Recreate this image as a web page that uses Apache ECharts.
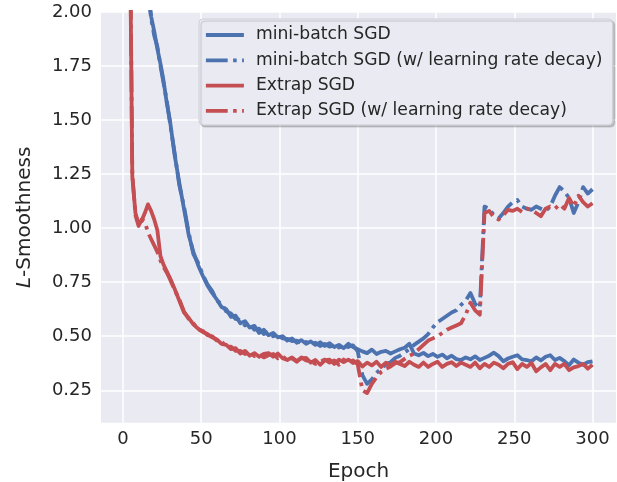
<!DOCTYPE html>
<html>
<head>
<meta charset="utf-8">
<script src="https://cdn.jsdelivr.net/npm/echarts@6/dist/echarts.min.js"></script>
<style>html,body{margin:0;padding:0;background:#fff;}#c{width:617px;height:482px;}</style>
</head>
<body>
<div id="c"></div>
<script>
const epochs = [1,3,4,5,6,8,10,12,14,16,18,20,22,24,26,28,30,
33,36,39,42,45,48,51,54,57,60,63,66,69,72,75,78,81,84,87,90,93,96,99,
102,105,108,111,114,117,120,123,126,129,132,135,138,141,144,147,150,
153,156,159,162,165,168,171,174,177,180,183,186,189,192,195,198,201,
204,207,210,213,216,219,222,225,228,231,234,237,240,243,246,249,252,
255,258,261,264,267,270,273,276,279,282,285,288,291,294,297,300];

const miniBatch = [6.0,5.2,4.8,4.4,4.0,3.4,2.9,2.55,2.3,2.1,1.98,1.91,1.83,1.76,1.68,1.58,1.50,
1.34,1.21,1.09,0.97,0.89,0.83,0.78,0.735,0.70,0.67,0.635,0.625,0.59,0.595,0.56,0.57,0.54,0.548,0.515,0.53,0.505,0.515,0.495,
0.50,0.48,0.49,0.47,0.482,0.465,0.476,0.46,0.472,0.455,0.468,0.45,0.46,0.445,0.465,0.45,0.44,
0.43,0.422,0.438,0.418,0.428,0.432,0.42,0.43,0.44,0.447,0.465,0.42,0.412,0.423,0.408,0.418,0.405,
0.415,0.398,0.41,0.394,0.39,0.402,0.393,0.407,0.39,0.40,0.41,0.424,0.408,0.384,0.397,0.405,0.412,
0.393,0.39,0.384,0.402,0.388,0.405,0.412,0.39,0.40,0.385,0.366,0.392,0.378,0.368,0.38,0.384];

const miniBatchDecay = [6.1,5.3,4.9,4.5,4.1,3.45,2.95,2.6,2.32,2.12,1.97,1.89,1.84,1.75,1.67,1.59,1.49,
1.35,1.20,1.10,0.98,0.88,0.84,0.785,0.74,0.71,0.665,0.65,0.615,0.605,0.58,0.575,0.55,0.555,0.53,0.535,0.51,0.52,0.50,0.505,
0.49,0.488,0.478,0.48,0.468,0.474,0.462,0.47,0.455,0.464,0.452,0.46,0.448,0.456,0.45,0.458,0.43,
0.32,0.28,0.30,0.33,0.35,0.37,0.38,0.40,0.41,0.425,0.44,0.46,0.475,0.49,0.51,0.54,0.565,
0.58,0.595,0.61,0.62,0.645,0.665,0.70,0.65,0.63,1.10,1.09,1.06,1.045,1.07,1.10,1.12,1.13,
1.10,1.09,1.085,1.10,1.09,1.08,1.10,1.15,1.19,1.17,1.14,1.07,1.12,1.19,1.16,1.18];

const extrap = [9.0,6.0,3.5,2.0,1.24,1.07,1.02,1.035,1.07,1.11,1.08,1.04,0.99,0.87,0.83,0.80,0.77,
0.72,0.665,0.61,0.585,0.555,0.535,0.52,0.51,0.495,0.485,0.465,0.46,0.44,0.445,0.42,0.432,0.41,0.422,0.405,0.418,0.422,0.405,0.42,
0.398,0.39,0.402,0.385,0.398,0.40,0.378,0.39,0.368,0.388,0.392,0.372,0.392,0.38,0.392,0.376,0.385,
0.36,0.378,0.365,0.382,0.358,0.378,0.365,0.382,0.372,0.362,0.382,0.368,0.358,0.378,0.358,0.372,0.382,
0.358,0.372,0.38,0.362,0.378,0.368,0.358,0.378,0.352,0.372,0.358,0.378,0.368,0.352,0.372,0.38,0.348,
0.372,0.358,0.376,0.338,0.356,0.372,0.343,0.372,0.358,0.372,0.343,0.356,0.362,0.372,0.35,0.368];

const extrapDecay = [9.1,6.1,3.6,2.05,1.25,1.06,1.01,1.04,1.03,0.98,0.95,0.92,0.89,0.85,0.82,0.795,0.765,
0.715,0.67,0.615,0.58,0.56,0.53,0.525,0.505,0.50,0.48,0.475,0.452,0.452,0.432,0.432,0.418,0.428,0.408,0.418,0.402,0.412,0.418,0.398,
0.408,0.388,0.398,0.382,0.402,0.388,0.385,0.372,0.382,0.392,0.378,0.388,0.368,0.392,0.378,0.388,0.37,
0.25,0.237,0.28,0.31,0.335,0.35,0.36,0.375,0.38,0.395,0.41,0.42,0.44,0.46,0.48,0.49,0.50,
0.515,0.53,0.54,0.55,0.56,0.60,0.655,0.62,0.60,1.07,1.08,1.05,1.04,1.06,1.085,1.08,1.09,
1.075,1.09,1.085,1.07,1.055,1.09,1.10,1.09,1.11,1.09,1.14,1.10,1.15,1.12,1.10,1.115];

const xTicks = [0,50,100,150,200,250,300];
const yTicks = [0.25,0.50,0.75,1.00,1.25,1.50,1.75,2.00];
const seriesNames = ['mini-batch SGD','mini-batch SGD (w/ learning rate decay)','Extrap SGD','Extrap SGD (w/ learning rate decay)'];

const BLUE = '#4C72B0', RED = '#C44E52';
const FONT = 'DejaVu Sans';
const LW = 3.8;
const dashDot = [21.8,5.4,3.6,5.4];
const colors = [BLUE, BLUE, RED, RED];
const dashed = [false, true, false, true];
const values = [miniBatch, miniBatchDecay, extrap, extrapDecay];

function mk(i) {
  return {
    name: seriesNames[i], type: 'line', symbol: 'none', showSymbol: false, clip: true,
    data: epochs.map((e,k)=>[e, values[i][k]]),
    lineStyle: {color: colors[i], width: LW, type: dashed[i] ? dashDot : 'solid', cap: 'butt', join: 'round'},
    itemStyle: {color: colors[i]},
    emphasis: {disabled: true}
  };
}

const chart = echarts.init(document.getElementById('c'), null, {renderer: 'canvas'});
chart.setOption({
  animation: false,
  backgroundColor: '#ffffff',
  textStyle: {fontFamily: FONT},
  grid: {left: 101, top: 12, width: 515, height: 410.7, show: true, backgroundColor: '#EAEAF2', borderWidth: 0,
    containLabel: false, outerBoundsMode: 'none'},
  xAxis: {
    type: 'value', min: -14, max: 315,
    name: 'Epoch', nameLocation: 'middle', nameGap: 39,
    nameTextStyle: {fontFamily: FONT, fontSize: 20, color: '#262626'},
    axisLine: {show: false},
    axisTick: {show: false, customValues: xTicks},
    axisLabel: {customValues: xTicks, fontFamily: FONT, fontSize: 18, color: '#262626', margin: 8},
    splitLine: {show: true, lineStyle: {color: '#ffffff', width: 1.5}}
  },
  yAxis: {
    type: 'value', min: 0.1, max: 2.0,
    name: '{i|L}-Smoothness', nameLocation: 'middle', nameGap: 66,
    nameTextStyle: {fontFamily: FONT, fontSize: 20, color: '#262626',
      rich: {i: {fontFamily: FONT, fontSize: 20, fontStyle: 'italic', color: '#262626'}}},
    axisLine: {show: false},
    axisTick: {show: false, customValues: yTicks},
    axisLabel: {customValues: yTicks, fontFamily: FONT, fontSize: 18, color: '#262626', margin: 9,
      formatter: v => v.toFixed(2)},
    splitLine: {show: true, lineStyle: {color: '#ffffff', width: 1.5}}
  },
  legend: {
    data: seriesNames.map((n, i) => ({
      name: n,
      itemStyle: {opacity: 0},
      lineStyle: {color: colors[i], width: LW, type: dashed[i] ? dashDot : 'solid', cap: 'butt', opacity: 1}
    })),
    orient: 'vertical', left: 199, top: 19,
    padding: [6, 10, 4, 5], itemGap: 5.3, itemWidth: 38, itemHeight: 14,
    backgroundColor: '#EAEAF2', borderColor: '#cfcfd4', borderWidth: 1, borderRadius: 4,
    shadowColor: 'rgba(0,0,0,0.18)', shadowOffsetX: 2, shadowOffsetY: 2, shadowBlur: 1,
    textStyle: {fontFamily: FONT, fontSize: 17.2, color: '#262626', lineHeight: 20, padding: [0,0,0,7]},
    selectedMode: false
  },
  series: [mk(0), mk(1), mk(2), mk(3)]
});
</script>
</body>
</html>
